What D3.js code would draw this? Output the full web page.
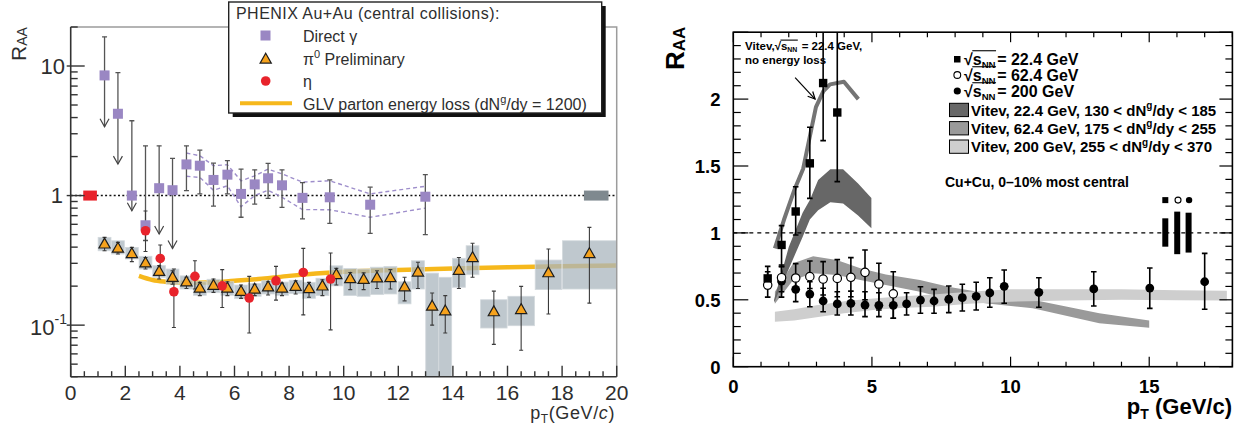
<!DOCTYPE html>
<html><head><meta charset="utf-8">
<script src="https://cdn.jsdelivr.net/npm/d3@7/dist/d3.min.js"></script>
<style>html,body{margin:0;padding:0;background:#fff}svg{display:block}</style>
</head><body>
<svg id="chart" width="1247" height="431" xmlns="http://www.w3.org/2000/svg"></svg>
<script>
// ================= LEFT PANEL DATA : PHENIX Au+Au central =================
const gammaPt    = [1.24,1.73,2.24,2.74,3.24,3.73,4.24,4.73,5.23,5.74,6.24,6.74,7.23,7.74,8.49,9.49,10.97,12.99];
const gammaR     = [8.46,4.28,1.00,0.59,1.14,1.10,1.74,1.70,1.32,1.45,1.03,1.22,1.36,1.20,0.96,0.97,0.85,0.98];
const gammaHi    = [16.8,8.9,3.78,2.42,2.42,1.94,2.42,2.24,1.78,1.86,1.60,1.58,1.77,1.58,1.26,1.32,1.16,1.45];
const gammaLo    = [3.4,1.75,0.763,0.45,0.505,0.39,1.09,1.03,0.83,1.03,0.68,0.86,0.95,0.81,0.66,0.61,0.51,0.50];
const gammaLimit = [1,1,1,0,1,1,0,0,0,0,0,0,0,0,0,0,0,0];
const gammaSysPt = [4.24,4.73,5.23,5.74,6.24,6.74,7.23,7.74,8.49,9.49,10.97,12.99];
const gammaSysHi = [2.13,2.03,1.70,1.73,1.30,1.42,1.60,1.47,1.27,1.30,1.03,1.18];
const gammaSysLo = [1.41,1.38,1.10,1.19,0.82,1.00,1.10,0.97,0.78,0.777,0.68,0.80];

const pi0Pt    = [1.24,1.73,2.24,2.74,3.24,3.73,4.24,4.73,5.23,5.74,6.24,6.74,7.23,7.74,8.24,8.73,9.22,9.73,10.24,10.73,11.22,11.71,12.23,12.72,13.24,13.72,14.22,14.72,15.5,16.5,17.5,19.0];
const pi0R     = [0.42,0.39,0.354,0.30,0.258,0.232,0.214,0.192,0.201,0.192,0.181,0.188,0.196,0.192,0.198,0.19,0.199,0.244,0.227,0.224,0.23,0.231,0.196,0.255,0.139,0.128,0.263,0.33,0.126,0.131,0.252,0.354];
const pi0Hi    = [0.476,0.435,0.398,0.333,0.288,0.263,0.234,0.214,0.227,0.216,0.204,0.207,0.216,0.211,0.22,0.214,0.224,0.274,0.255,0.253,0.263,0.268,0.234,0.306,0.177,0.169,0.333,0.428,0.183,0.199,0.387,0.568];
const pi0Lo    = [0.375,0.354,0.309,0.271,0.227,0.207,0.192,0.169,0.179,0.169,0.161,0.169,0.171,0.169,0.174,0.164,0.169,0.204,0.188,0.188,0.192,0.19,0.154,0.192,0.10,0.087,0.192,0.234,0.071,0.064,0.122,0.148];
const pi0SysHi = [0.476,0.448,0.398,0.34,0.288,0.271,0.24,0.216,0.226,0.216,0.204,0.21,0.22,0.215,0.222,0.214,0.23,0.287,0.274,0.271,0.28,0.284,0.216,0.314,0.252,0.234,0.328,0.41,0.157,0.167,0.318,0.448];
const pi0SysLo = [0.375,0.354,0.324,0.271,0.234,0.207,0.19,0.17,0.178,0.17,0.16,0.167,0.174,0.17,0.175,0.161,0.169,0.201,0.169,0.167,0.172,0.174,0.146,0.19,0.03,0.03,0.196,0.245,0.095,0.099,0.188,0.19];
const pi0BinW  = [0.5,0.5,0.5,0.5,0.5,0.5,0.5,0.5,0.5,0.5,0.5,0.5,0.5,0.5,0.5,0.5,0.5,0.5,0.5,0.5,0.5,0.5,0.5,0.5,0.5,0.5,0.5,0.5,1,1,1,2];

const etaPt = [2.74,3.28,3.78,4.55,5.55,6.54,7.52,8.52,9.52];
const etaR  = [0.535,0.327,0.181,0.238,0.201,0.162,0.22,0.255,0.227];
const etaHi = [0.76,0.416,0.271,0.314,0.268,0.238,0.284,0.391,0.36];
const etaLo = [0.37,0.26,0.096,0.19,0.137,0.087,0.156,0.12,0.092];

const glvPt = [2.5,3.0,3.5,4.0,5.0,6.0,7.0,8.0,10,12,14,16,18,20];
const glvR  = [0.24,0.223,0.216,0.212,0.213,0.22,0.228,0.24,0.258,0.267,0.274,0.28,0.285,0.288];

const normAuPt = [0.71, 19.25];       // normalisation boxes (red = Au+Au, grey = p+p)
const normAuHW = [0.25, 0.45];
const normAuLo = [0.915, 0.915];
const normAuHi = [1.093, 1.093];

const xTicksLeft = [0,2,4,6,8,10,12,14,16,18,20];

// ================= RIGHT PANEL DATA : Cu+Cu 0-10% =================
const s22Pt = [1.24,1.74,2.25,2.76,3.24,3.75];
const s22R  = [0.66,0.91,1.16,1.52,2.12,1.90];
const s22Hi = [0.75,1.054,1.345,1.79,2.6,2.6];
const s22Lo = [0.585,0.747,0.984,1.258,1.69,1.383];

const s62Pt = [1.24,1.74,2.25,2.76,3.24,3.75,4.24,4.75,5.25,5.77];
const s62R  = [0.61,0.665,0.663,0.673,0.655,0.66,0.668,0.705,0.618,0.545];
const s62Hi = [0.71,0.76,0.77,0.79,0.785,0.80,0.815,0.872,0.773,0.71];
const s62Lo = [0.52,0.56,0.57,0.585,0.536,0.523,0.523,0.50,0.424,0.362];

const s200Pt = [1.74,2.25,2.76,3.24,3.75,4.24,4.75,5.25,5.77,6.25,6.75,7.24,7.77,8.26,8.76,9.25,9.77,11.02,13.0,15.02,17.0];
const s200R  = [0.64,0.578,0.543,0.491,0.469,0.474,0.461,0.459,0.459,0.469,0.498,0.491,0.504,0.516,0.526,0.551,0.601,0.556,0.581,0.588,0.635];
const s200Hi = [0.75,0.67,0.635,0.586,0.56,0.565,0.56,0.553,0.549,0.553,0.598,0.578,0.603,0.616,0.631,0.665,0.723,0.665,0.71,0.738,0.847];
const s200Lo = [0.52,0.486,0.448,0.411,0.386,0.386,0.374,0.374,0.362,0.386,0.399,0.399,0.404,0.416,0.424,0.444,0.474,0.444,0.454,0.436,0.429];

const noElossPt = [1.5,1.83,2.2,2.52,2.98,3.25,3.49,3.99,4.51];
const noElossR  = [0.885,1.10,1.32,1.48,1.94,2.06,2.11,2.13,2.0];

const band22Pt = [1.47,2.0,2.5,2.76,3.06,3.5,3.96,4.5,4.98];
const band22Lo = [0.478,0.73,0.97,1.10,1.17,1.23,1.22,1.13,1.034];
const band22Hi = [0.50,0.894,1.15,1.246,1.395,1.475,1.475,1.37,1.26];

const band62Pt = [1.5,2.16,2.88,3.73,4.58,5.5,6.73,7.8,9.25,10.8,13.2,15.0];
const band62Hi = [0.56,0.773,0.825,0.797,0.735,0.69,0.648,0.595,0.545,0.50,0.40,0.345];
const band62Lo = [0.47,0.648,0.698,0.685,0.648,0.61,0.56,0.505,0.47,0.436,0.324,0.292];

const band200Pt = [1.5,2.2,3.0,4.0,5.05,6.0,7.2,8.5,10,12,14,16,17.8];
const band200Hi = [0.41,0.43,0.46,0.49,0.51,0.525,0.54,0.56,0.578,0.578,0.578,0.572,0.568];
const band200Lo = [0.336,0.345,0.37,0.40,0.424,0.438,0.448,0.47,0.486,0.495,0.50,0.497,0.494];

const normCuPt = [15.58,16.01,16.42];
const normCuLo = [0.897,0.841,0.853];
const normCuHi = [1.109,1.159,1.151];

const xTicksRight = [0,5,10,15];
const yTicksRight = [0,0.5,1,1.5,2];

const legendEnergies = ["22.4","62.4","200"];
const legendBands = [
  ["Vitev, 22.4 GeV, 130 < dN","/dy < 185"],
  ["Vitev, 62.4 GeV, 175 < dN","/dy < 255"],
  ["Vitev, 200 GeV, 255 < dN","/dy < 370"]
];
const bandColors = ["#676767","#9a9a9a","#cecece"];

// ================================================================
const svg = d3.select("#chart");
const LF = "'Liberation Sans', Arial, Helvetica, sans-serif";
const INK = "#2e2e2e";

// ---------------- LEFT PANEL ----------------
const xL = d3.scaleLinear().domain([0,20]).range([70.7,616.7]);
const yL = d3.scaleLog().domain([0.04,20]).range([376.7,27]);

svg.append("clipPath").attr("id","clipL").append("rect")
  .attr("x",xL(0)).attr("y",yL(20)).attr("width",xL(20)-xL(0)).attr("height",yL(0.04)-yL(20));
const L = svg.append("g").attr("font-family",LF);
const Lc = L.append("g").attr("clip-path","url(#clipL)");

L.append("path").attr("d",`M${xL(0)},${yL(20)}H${xL(20)}V${yL(0.04)}`)
  .attr("fill","none").attr("stroke","#9c9c9c").attr("stroke-width",1.5);

Lc.append("line").attr("x1",xL(0)).attr("x2",xL(20)).attr("y1",yL(1)).attr("y2",yL(1))
  .attr("stroke","#111").attr("stroke-width",1.6).attr("stroke-dasharray","2,2.3");

const lineL = d3.line().x(d=>xL(d[0])).y(d=>yL(d[1])).curve(d3.curveMonotoneX);
Lc.append("path").datum(d3.zip(glvPt,glvR)).attr("d",lineL)
  .attr("fill","none").attr("stroke","#f6b81c").attr("stroke-width",4.5);

Lc.selectAll("rect.sys").data(d3.range(pi0Pt.length)).join("rect").attr("class","sys")
  .attr("x",i=>xL(pi0Pt[i]-pi0BinW[i]/2)+0.4)
  .attr("width",i=>xL(pi0BinW[i])-xL(0)-0.8)
  .attr("y",i=>yL(pi0SysHi[i]))
  .attr("height",i=>yL(pi0SysLo[i])-yL(pi0SysHi[i]))
  .attr("fill","#aab5bd").attr("fill-opacity",0.75)
  .attr("stroke","#d3d9dd").attr("stroke-width",0.8);

Lc.selectAll("rect.norm").data(d3.range(normAuPt.length)).join("rect").attr("class","norm")
  .attr("x",i=>xL(normAuPt[i]-normAuHW[i]))
  .attr("width",i=>xL(2*normAuHW[i])-xL(0))
  .attr("y",i=>yL(normAuHi[i]))
  .attr("height",i=>yL(normAuLo[i])-yL(normAuHi[i]))
  .attr("fill",(d,i)=>i===0?"#e8232b":"#7f898f");

[gammaSysHi,gammaSysLo].forEach(arr=>{
  Lc.append("path").datum(d3.zip(gammaSysPt,arr))
    .attr("d",d3.line().x(d=>xL(d[0])).y(d=>yL(d[1])))
    .attr("fill","none").attr("stroke","#9e8ecb").attr("stroke-width",1.4).attr("stroke-dasharray","4,3");
});

function errBar(g,x,y1,y2,color,w,cap){
  g.append("line").attr("x1",x).attr("x2",x).attr("y1",y1).attr("y2",y2).attr("stroke",color).attr("stroke-width",w);
  if(cap>0){
    g.append("line").attr("x1",x-cap).attr("x2",x+cap).attr("y1",y1).attr("y2",y1).attr("stroke",color).attr("stroke-width",w);
    g.append("line").attr("x1",x-cap).attr("x2",x+cap).attr("y1",y2).attr("y2",y2).attr("stroke",color).attr("stroke-width",w);
  }
}
gammaPt.forEach((p,i)=>{
  const x=xL(p);
  const g=Lc.append("g");
  g.append("line").attr("x1",x).attr("x2",x).attr("y1",yL(gammaHi[i])).attr("y2",yL(gammaLo[i])).attr("stroke","#555").attr("stroke-width",1.3);
  g.append("line").attr("x1",x-2.5).attr("x2",x+2.5).attr("y1",yL(gammaHi[i])).attr("y2",yL(gammaHi[i])).attr("stroke","#555").attr("stroke-width",1.3);
  if(gammaLimit[i]){
    const yt=yL(gammaLo[i]);
    g.append("path").attr("d",`M${x-4.5},${yt-8}L${x},${yt}L${x+4.5},${yt-8}`).attr("fill","none").attr("stroke","#444").attr("stroke-width",1.2);
  } else {
    g.append("line").attr("x1",x-2.5).attr("x2",x+2.5).attr("y1",yL(gammaLo[i])).attr("y2",yL(gammaLo[i])).attr("stroke","#555").attr("stroke-width",1.3);
  }
});
pi0Pt.forEach((p,i)=>errBar(Lc,xL(p),yL(pi0Hi[i]),yL(pi0Lo[i]),"#3a3a3a",1.1,2));
etaPt.forEach((p,i)=>errBar(Lc,xL(p),yL(etaHi[i]),yL(etaLo[i]),"#3a3a3a",1.1,2));

Lc.selectAll("rect.gam").data(d3.range(gammaPt.length)).join("rect").attr("class","gam")
  .attr("x",i=>xL(gammaPt[i])-5).attr("y",i=>yL(gammaR[i])-5).attr("width",10).attr("height",10)
  .attr("fill","#9a87c3");
const triPath = "M0,-6.3L5.6,3.6L-5.6,3.6Z";
Lc.selectAll("path.pi0").data(d3.range(pi0Pt.length)).join("path").attr("class","pi0")
  .attr("d",triPath).attr("transform",i=>`translate(${xL(pi0Pt[i])},${yL(pi0R[i])})`)
  .attr("fill","#f6a21c").attr("stroke","#1e1e1e").attr("stroke-width",1.2);
Lc.selectAll("circle.eta").data(d3.range(etaPt.length)).join("circle").attr("class","eta")
  .attr("cx",i=>xL(etaPt[i])).attr("cy",i=>yL(etaR[i])).attr("r",4.8).attr("fill","#e8232b");

L.append("line").attr("x1",xL(0)).attr("x2",xL(0)).attr("y1",yL(20)).attr("y2",yL(0.04)).attr("stroke","#333").attr("stroke-width",1.6);
L.append("line").attr("x1",xL(0)).attr("x2",xL(20)).attr("y1",yL(0.04)).attr("y2",yL(0.04)).attr("stroke","#333").attr("stroke-width",1.6);
const yMajL=[0.1,1,10];
yL.ticks().forEach(v=>{
  const maj = yMajL.some(m=>Math.abs(m-v)<1e-9);
  L.append("line").attr("x1",xL(0)-(maj?4:0)).attr("x2",xL(0)+(maj?14:7)).attr("y1",yL(v)).attr("y2",yL(v)).attr("stroke","#333").attr("stroke-width",1.4);
});
d3.range(0,20.001,0.5).forEach(v=>{
  const maj = Math.abs(v%2)<1e-9;
  L.append("line").attr("x1",xL(v)).attr("x2",xL(v)).attr("y1",yL(0.04)).attr("y2",yL(0.04)-(maj?11:5.5)).attr("stroke","#333").attr("stroke-width",1.4);
});
L.selectAll("text.xl").data(xTicksLeft).join("text").attr("class","xl")
  .attr("x",d=>xL(d)).attr("y",400).attr("text-anchor","middle").attr("font-size",21).attr("fill",INK).text(d=>d);
L.append("text").attr("x",65).attr("y",yL(10)+8).attr("text-anchor","end").attr("font-size",22).attr("fill",INK).text("10");
L.append("text").attr("x",63).attr("y",yL(1)+7.5).attr("text-anchor","end").attr("font-size",22).attr("fill",INK).text("1");
{
  const t=L.append("text").attr("x",67).attr("y",yL(0.1)+9.5).attr("text-anchor","end").attr("font-size",22).attr("fill",INK);
  t.append("tspan").text("10");
  t.append("tspan").attr("font-size",14).attr("dy",-11).text("-1");
}
{
  const t=L.append("text").attr("x",615).attr("y",419).attr("text-anchor","end").attr("font-size",18).attr("fill",INK).attr("letter-spacing",0.6);
  t.append("tspan").text("p");
  t.append("tspan").attr("font-size",12).attr("dy",4).text("T");
  t.append("tspan").attr("dy",-4).text("(GeV/");
  t.append("tspan").attr("font-style","italic").text("c");
  t.append("tspan").text(")");
  const r=L.append("text").attr("transform","translate(25.5,61) rotate(-90)").attr("font-size",21).attr("fill",INK);
  r.append("tspan").text("R");
  r.append("tspan").attr("font-size",14).attr("dy",1).text("AA");
}

{
  const lg=L.append("g");
  lg.append("rect").attr("x",232.7).attr("y",6).attr("width",373).attr("height",111).attr("fill","#111");
  lg.append("rect").attr("x",228.7).attr("y",2).attr("width",373).attr("height",111).attr("fill","#fff").attr("stroke","#222").attr("stroke-width",1.4);
  lg.append("text").attr("x",236).attr("y",18.5).attr("font-size",16).attr("fill",INK).attr("letter-spacing",0.45).text("PHENIX Au+Au (central collisions):");
  lg.append("rect").attr("x",260.5).attr("y",30.5).attr("width",10).attr("height",10).attr("fill","#9a87c3");
  lg.append("path").attr("d",triPath).attr("transform","translate(265.7,59.5)").attr("fill","#f6a21c").attr("stroke","#1e1e1e").attr("stroke-width",1.2);
  lg.append("circle").attr("cx",265.7).attr("cy",81).attr("r",4.8).attr("fill","#e8232b");
  lg.append("line").attr("x1",240).attr("x2",292).attr("y1",103.3).attr("y2",103.3).attr("stroke","#f6b81c").attr("stroke-width",4);
  lg.append("text").attr("x",303).attr("y",41.5).attr("font-size",16).attr("fill",INK).text("Direct γ");
  const t2=lg.append("text").attr("x",303).attr("y",64.5).attr("font-size",16).attr("fill",INK);
  t2.append("tspan").text("π");
  t2.append("tspan").attr("font-size",11).attr("dy",-7).text("0");
  t2.append("tspan").attr("dy",7).text(" Preliminary");
  lg.append("text").attr("x",303).attr("y",86.5).attr("font-size",16).attr("fill",INK).text("η");
  const t4=lg.append("text").attr("x",303).attr("y",109.5).attr("font-size",16).attr("fill",INK);
  t4.append("tspan").text("GLV parton energy loss (dN");
  t4.append("tspan").attr("font-size",11).attr("dy",-7).text("g");
  t4.append("tspan").attr("dy",7).text("/dy = 1200)");
}

// ---------------- RIGHT PANEL ----------------
const xR = d3.scaleLinear().domain([0,18]).range([733.3,1232.4]);
const yR = d3.scaleLinear().domain([0,2.5]).range([366.7,32.2]);
svg.append("clipPath").attr("id","clipR").append("rect")
  .attr("x",xR(0)).attr("y",yR(2.5)).attr("width",xR(18)-xR(0)).attr("height",yR(0)-yR(2.5));
const R = svg.append("g").attr("font-family",LF).attr("font-weight","bold");
const Rc = R.append("g").attr("clip-path","url(#clipR)");

const areaR = d3.area().x(d=>xR(d[0])).y0(d=>yR(d[1])).y1(d=>yR(d[2]));
Rc.append("path").datum(d3.zip(band62Pt,band62Lo,band62Hi)).attr("d",areaR).attr("fill",bandColors[1]);
Rc.append("path").datum(d3.zip(band200Pt,band200Lo,band200Hi)).attr("d",areaR).attr("fill",bandColors[2]);
Rc.append("path").datum(d3.zip(band22Pt,band22Lo,band22Hi)).attr("d",areaR).attr("fill",bandColors[0]);
Rc.append("path").datum(d3.zip(noElossPt,noElossR))
  .attr("d",d3.line().x(d=>xR(d[0])).y(d=>yR(d[1])))
  .attr("fill","none").attr("stroke","#747474").attr("stroke-width",4).attr("stroke-linejoin","round");

Rc.append("line").attr("x1",xR(0)).attr("x2",xR(18)).attr("y1",yR(1)).attr("y2",yR(1))
  .attr("stroke","#000").attr("stroke-width",1.3).attr("stroke-dasharray","4,4");

Rc.selectAll("rect.ncu").data(d3.range(normCuPt.length)).join("rect").attr("class","ncu")
  .attr("x",i=>xR(normCuPt[i])-3).attr("width",6)
  .attr("y",i=>yR(normCuHi[i])).attr("height",i=>yR(normCuLo[i])-yR(normCuHi[i])).attr("fill","#000");
R.append("rect").attr("x",xR(normCuPt[0])-3).attr("y",yR(1.245)-3).attr("width",6).attr("height",6).attr("fill","#000");
R.append("circle").attr("cx",xR(normCuPt[1])+0.8).attr("cy",yR(1.245)).attr("r",3).attr("fill","#fff").attr("stroke","#000").attr("stroke-width",1.1);
R.append("circle").attr("cx",xR(normCuPt[2])+0.5).attr("cy",yR(1.245)).attr("r",3.2).attr("fill","#000");

s200Pt.forEach((p,i)=>errBar(Rc,xR(p),yR(s200Hi[i]),yR(s200Lo[i]),"#000",1.6,2.8));
s62Pt.forEach((p,i)=>errBar(Rc,xR(p),yR(s62Hi[i]),yR(s62Lo[i]),"#000",1.6,2.8));
s22Pt.forEach((p,i)=>errBar(Rc,xR(p),yR(s22Hi[i]),yR(s22Lo[i]),"#000",1.6,2.8));
Rc.selectAll("circle.s200").data(d3.range(s200Pt.length)).join("circle").attr("class","s200")
  .attr("cx",i=>xR(s200Pt[i])).attr("cy",i=>yR(s200R[i])).attr("r",4.4).attr("fill","#000");
Rc.selectAll("circle.s62").data(d3.range(s62Pt.length)).join("circle").attr("class","s62")
  .attr("cx",i=>xR(s62Pt[i])).attr("cy",i=>yR(s62R[i])).attr("r",4.2).attr("fill","#fff").attr("stroke","#000").attr("stroke-width",1.2);
Rc.selectAll("rect.s22").data(d3.range(s22Pt.length)).join("rect").attr("class","s22")
  .attr("x",i=>xR(s22Pt[i])-4.2).attr("y",i=>yR(s22R[i])-4.2).attr("width",8.4).attr("height",8.4).attr("fill","#000");

R.append("rect").attr("x",xR(0)).attr("y",yR(2.5)).attr("width",xR(18)-xR(0)).attr("height",yR(0)-yR(2.5))
  .attr("fill","none").attr("stroke","#000").attr("stroke-width",1.6);
d3.range(0,2.501,0.1).forEach(v=>{
  const maj = Math.abs(v*2-Math.round(v*2))<1e-6;
  const len = maj?15:7.5;
  R.append("line").attr("x1",xR(0)).attr("x2",xR(0)+len).attr("y1",yR(v)).attr("y2",yR(v)).attr("stroke","#000").attr("stroke-width",1.2);
  R.append("line").attr("x1",xR(18)).attr("x2",xR(18)-(maj?13:7)).attr("y1",yR(v)).attr("y2",yR(v)).attr("stroke","#000").attr("stroke-width",1.2);
});
d3.range(0,18.001,1).forEach(v=>{
  const maj = v%5===0;
  const len = maj?10:5;
  R.append("line").attr("x1",xR(v)).attr("x2",xR(v)).attr("y1",yR(0)).attr("y2",yR(0)-len).attr("stroke","#000").attr("stroke-width",1.2);
  R.append("line").attr("x1",xR(v)).attr("x2",xR(v)).attr("y1",yR(2.5)).attr("y2",yR(2.5)+len).attr("stroke","#000").attr("stroke-width",1.2);
});
R.selectAll("text.yr").data(yTicksRight).join("text").attr("class","yr")
  .attr("x",720.5).attr("y",d=>yR(d)+7).attr("text-anchor","end").attr("font-size",18.5).text(d=>d);
R.selectAll("text.xr").data(xTicksRight).join("text").attr("class","xr")
  .attr("x",d=>xR(d)).attr("y",393).attr("text-anchor","middle").attr("font-size",18.5).text(d=>d);
{
  const t=R.append("text").attr("x",1232).attr("y",414).attr("text-anchor","end").attr("font-size",22);
  t.append("tspan").text("p");
  t.append("tspan").attr("font-size",14).attr("dy",5).text("T");
  t.append("tspan").attr("dy",-5).text(" (GeV/c)");
  const r=R.append("text").attr("transform","translate(684,70) rotate(-90)").attr("font-size",26);
  r.append("tspan").text("R");
  r.append("tspan").attr("font-size",17).attr("dy",1).text("AA");
}

function sqrtText(g,x,y,size,prefix,rest){
  const t=g.append("text").attr("x",x).attr("y",y).attr("font-size",size);
  if(prefix) t.append("tspan").text(prefix);
  t.append("tspan").text("√");
  t.append("tspan").text("s");
  t.append("tspan").attr("font-size",size*0.6).attr("dy",size*0.2).text("NN");
  t.append("tspan").attr("dy",-size*0.2).attr("dx",size*0.1).text(rest);
  const n=t.node(), k=prefix?prefix.length:0;
  const a=n.getEndPositionOfChar(k).x, b=n.getEndPositionOfChar(k+3).x;
  g.append("line").attr("x1",a-0.5).attr("x2",b+0.5).attr("y1",y-size*0.86).attr("y2",y-size*0.86).attr("stroke","#000").attr("stroke-width",1.1);
}
sqrtText(R,745,50,11.5,"Vitev,"," = 22.4 GeV,");
R.append("text").attr("x",745).attr("y",63.5).attr("font-size",11.5).text("no energy loss");
{
  const x1=xR(2.23),y1=yR(2.16),x2=xR(2.95),y2=yR(2.0);
  R.append("line").attr("x1",x1).attr("y1",y1).attr("x2",x2).attr("y2",y2).attr("stroke","#000").attr("stroke-width",1.2);
  const ang=Math.atan2(y2-y1,x2-x1), h=8, s=0.45;
  R.append("path").attr("d",`M${x2-h*Math.cos(ang-s)},${y2-h*Math.sin(ang-s)}L${x2},${y2}L${x2-h*Math.cos(ang+s)},${y2-h*Math.sin(ang+s)}`)
    .attr("fill","none").attr("stroke","#000").attr("stroke-width",1.2);
}
{
  const lg=R.append("g");
  const rowY=[64.5,80.5,96.5];
  lg.append("rect").attr("x",954).attr("y",rowY[0]-8.5).attr("width",6.5).attr("height",6.5).attr("fill","#000");
  lg.append("circle").attr("cx",957.3).attr("cy",rowY[1]-5.5).attr("r",3.4).attr("fill","#fff").attr("stroke","#000").attr("stroke-width",1.1);
  lg.append("circle").attr("cx",957.3).attr("cy",rowY[2]-5.5).attr("r",3.6).attr("fill","#000");
  legendEnergies.forEach((e,i)=>sqrtText(lg,964,rowY[i],16,"","= "+e+" GeV"));
  const bandY=[115.5,133.8,152.2];
  legendBands.forEach((b,i)=>{
    lg.append("rect").attr("x",949.5).attr("y",bandY[i]-12.2).attr("width",19).attr("height",13.3)
      .attr("fill",bandColors[i]).attr("stroke","#000").attr("stroke-width",1);
    const t=lg.append("text").attr("x",971).attr("y",bandY[i]).attr("font-size",15);
    t.append("tspan").text(b[0]);
    t.append("tspan").attr("font-size",10).attr("dy",-6.5).text("g");
    t.append("tspan").attr("dy",6.5).text(b[1]);
  });
  lg.append("text").attr("x",945).attr("y",186.5).attr("font-size",14).text("Cu+Cu, 0–10% most central");
}
</script>
</body></html>
